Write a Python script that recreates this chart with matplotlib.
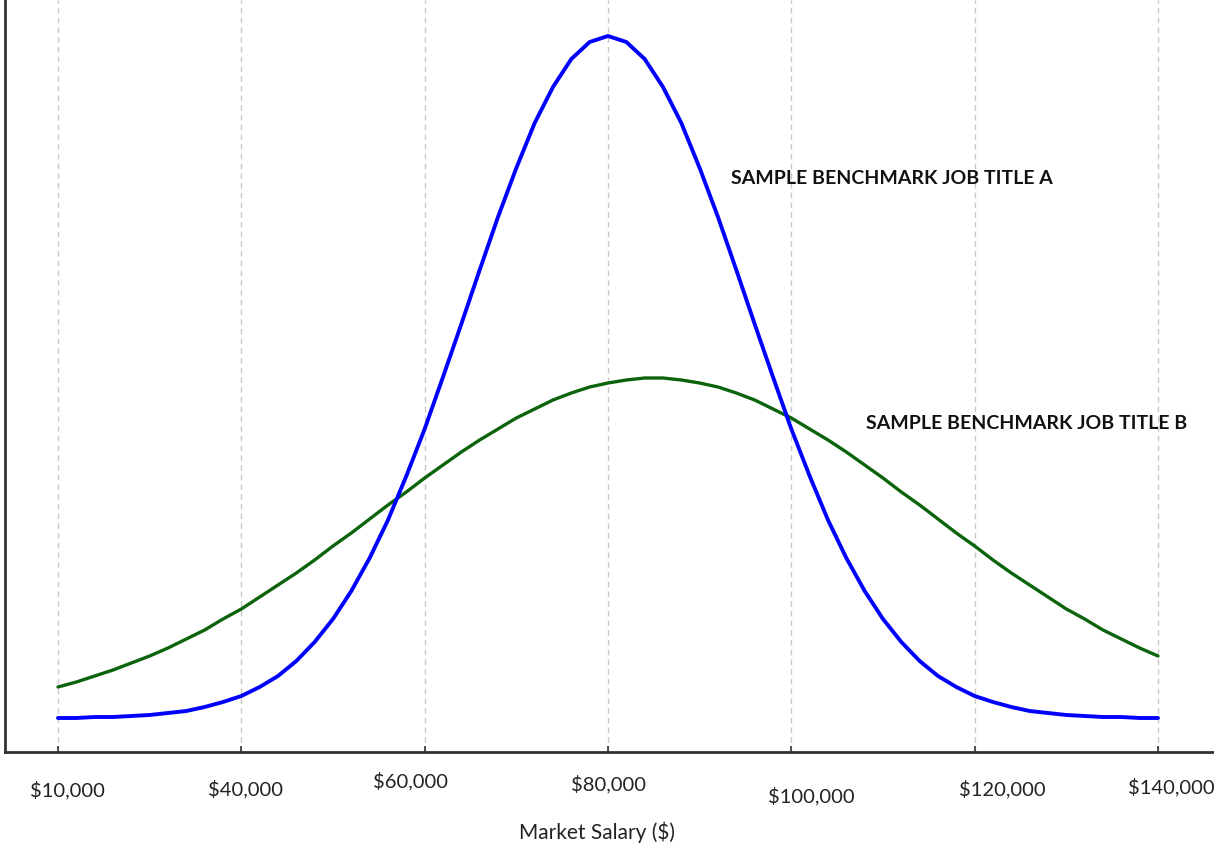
import numpy as np
import matplotlib
matplotlib.use("Agg")
import matplotlib.pyplot as plt
import matplotlib.transforms as mtransforms

# salary positions on the axis (evenly spaced categories) and their labels
tick_pos = [0, 1, 2, 3, 4, 5, 6]
tick_labels = ["$10,000", "$40,000", "$60,000", "$80,000", "$100,000", "$120,000", "$140,000"]

# both curves are sampled every 0.1 of a category step
curve_x = np.round(np.arange(0, 6.05, 0.1), 1)

# job title A (blue, narrow curve) - heights
a_y = [34, 34, 35, 35, 36, 37, 39, 41, 45, 50, 56, 65, 76, 91, 110, 133,
       161, 194, 232, 276, 323, 375, 428, 482, 535, 584, 629, 665, 693, 710,
       716,
       710, 693, 665, 629, 584, 535, 482, 428, 375, 323, 276, 232, 194, 161,
       133, 110, 91, 76, 65, 56, 50, 45, 41, 39, 37, 36, 35, 35, 34, 34]

# job title B (green, wide curve)
b_y = [65, 70, 76, 82, 89, 96, 104, 113, 122, 133, 143, 155, 167, 179, 192,
       206, 219, 233, 247, 260, 274, 287, 300, 312, 323, 334, 343, 352, 359,
       365, 369, 372, 374,
       374, 372, 369, 365, 359, 352, 343, 334, 323, 312, 300, 287, 274, 260,
       247, 233, 219, 206, 192, 179, 167, 155, 143, 133, 122, 113, 104, 96]

W, H = 1214, 846
fig = plt.figure(figsize=(W / 100, H / 100), dpi=100)
ax = fig.add_axes([5 / W, (H - 752) / H, (W - 5) / W, 752 / H])

ax.set_xlim((5 - 58) / 183.33, (1214 - 58) / 183.33)
ax.set_ylim(0, 752)

for p in tick_pos:
    ax.axvline(p, color="#c8c8c8", lw=1.0, ls=(0, (4, 3)), zorder=0)

ax.plot(curve_x, a_y, color="#0000ff", lw=2.8, solid_capstyle="round",
        solid_joinstyle="round", zorder=3)
ax.plot(curve_x, b_y, color="#0b640b", lw=2.4, solid_capstyle="round",
        solid_joinstyle="round", zorder=2)

ax.text(3.67, 574, "SAMPLE BENCHMARK JOB TITLE A", fontsize=14, fontweight="bold",
        family="Lato", color="#111111", ha="left", va="center")
ax.text(4.41, 329, "SAMPLE BENCHMARK JOB TITLE B", fontsize=14, fontweight="bold",
        family="Lato", color="#111111", ha="left", va="center")

for s in ["top", "right"]:
    ax.spines[s].set_visible(False)
for s in ["left", "bottom"]:
    ax.spines[s].set_color("#333333")
    ax.spines[s].set_linewidth(2.0)

ax.set_yticks([])
ax.set_xticks(tick_pos)
ax.set_xticklabels(tick_labels, family="Lato", fontsize=14.5, color="#222222")
ax.tick_params(axis="x", direction="in", length=4, width=1.2, color="#333333", pad=20)

# the labels in the picture sit a bit off their ticks
offsets = [(9, -1), (4, 0), (-14, 8), (1, 5), (20, -7), (28, 0), (13, 2)]
for lab, (dx, dy) in zip(ax.get_xticklabels(), offsets):
    lab.set_transform(lab.get_transform() +
                      mtransforms.ScaledTranslation(dx / 100, dy / 100, fig.dpi_scale_trans))

ax.set_xlabel("Market Salary ($)", family="Lato", fontsize=15, color="#222222")
ax.xaxis.label.set_va("center")
ax.xaxis.set_label_coords((597 - 5) / 1209, (752 - 832) / 752)

fig.savefig("out.png", dpi=100)
